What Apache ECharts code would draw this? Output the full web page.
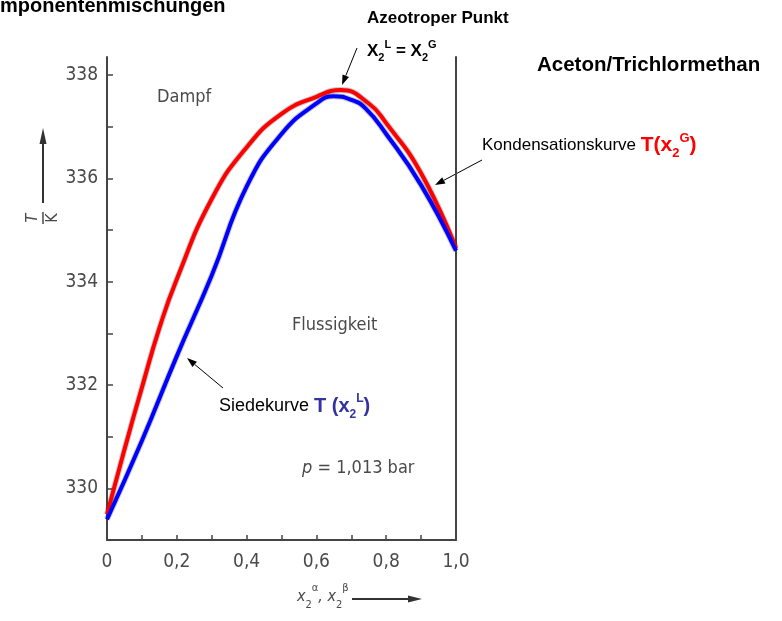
<!DOCTYPE html>
<html>
<head>
<meta charset="utf-8">
<script src="https://cdn.jsdelivr.net/npm/echarts@6/dist/echarts.min.js"></script>
<style>
  html, body { margin: 0; padding: 0; background: #fff; }
  #main { width: 782px; height: 621px; }
</style>
</head>
<body>
<div id="main"></div>
<script>
// Kondensationskurve T(x2G) - rot
var xGas = [0, 0.05, 0.1, 0.15, 0.2, 0.3, 0.4, 0.5, 0.6, 0.67, 0.75, 0.8, 0.9, 1.0];
var tGas = [329.5, 330.75, 331.95, 333.1, 334.05, 335.6, 336.6, 337.25, 337.58, 337.71, 337.45, 337.07, 336.1, 334.65];

// Siedekurve T(x2L) - blau
var xLiq = [0, 0.1, 0.2, 0.3, 0.4, 0.5, 0.6, 0.65, 0.7, 0.74, 0.8, 0.9, 1.0];
var tLiq = [329.4, 330.92, 332.56, 334.12, 335.84, 336.86, 337.45, 337.59, 337.52, 337.36, 336.86, 335.87, 334.6];

var yTicks = [330, 332, 334, 336, 338];

function pairs(xs, ys) {
    var out = [];
    for (var i = 0; i < xs.length; i++) {
        out.push([xs[i], ys[i]]);
    }
    return out;
}

// Pfeil als Linie + Spitze
function arrow(x1, y1, x2, y2, len, half, color, width) {
    var a = Math.atan2(y2 - y1, x2 - x1);
    var bx = x2 - len * Math.cos(a), by = y2 - len * Math.sin(a);
    var px = -Math.sin(a) * half, py = Math.cos(a) * half;
    return [{
        type: 'line',
        shape: {x1: x1, y1: y1, x2: bx, y2: by},
        style: {stroke: color, lineWidth: width}
    }, {
        type: 'polygon',
        shape: {points: [[x2, y2], [bx + px, by + py], [bx - px, by - py]]},
        style: {fill: color}
    }];
}

var scanFont = '"DejaVu Sans Condensed", "Liberation Sans Narrow", sans-serif';
var scanColor = '#4a4a4a';
var arial = '"Liberation Sans", Arial, sans-serif';

var graphics = [
    {
        type: 'text', x: 0, y: 6.5,
        style: {text: 'mponentenmischungen', font: 'bold 20px ' + arial,
            fill: '#000', textAlign: 'left', textVerticalAlign: 'middle'}
    },
    {
        type: 'text', x: 367, y: 18,
        style: {text: 'Azeotroper Punkt', font: 'bold 17px ' + arial,
            fill: '#000', textAlign: 'left', textVerticalAlign: 'middle'}
    },
    {
        type: 'text', x: 367, y: 51,
        style: {
            text: '{m|X}{sub|2}{sup|L}{m| = X}{sub|2}{sup|G}',
            textAlign: 'left', textVerticalAlign: 'middle',
            rich: {
                m: {font: 'bold 17px ' + arial, fill: '#000', lineHeight: 24},
                sub: {font: 'bold 11px ' + arial, fill: '#000', verticalAlign: 'bottom', lineHeight: 24},
                sup: {font: 'bold 11px ' + arial, fill: '#000', verticalAlign: 'top', lineHeight: 24}
            }
        }
    },
    {
        type: 'text', x: 537, y: 65.5,
        style: {text: 'Aceton/Trichlormethan', font: 'bold 20.5px ' + arial,
            fill: '#000', textAlign: 'left', textVerticalAlign: 'middle'}
    },
    {
        type: 'text', x: 482, y: 145.5,
        style: {
            text: '{n|Kondensationskurve }{r|T(x}{rs|2}{rp|G}{r|)}',
            textAlign: 'left', textVerticalAlign: 'middle',
            rich: {
                n: {font: '17px ' + arial, fill: '#000', lineHeight: 28},
                r: {font: 'bold 21px ' + arial, fill: '#ff0000', lineHeight: 28},
                rs: {font: 'bold 13px ' + arial, fill: '#ff0000', verticalAlign: 'bottom', lineHeight: 28},
                rp: {font: 'bold 13px ' + arial, fill: '#ff0000', verticalAlign: 'top', lineHeight: 28}
            }
        }
    },
    {
        type: 'text', x: 219, y: 406.5,
        style: {
            text: '{n|Siedekurve }{b|T (x}{bs|2}{bp|L}{b|)}',
            textAlign: 'left', textVerticalAlign: 'middle',
            rich: {
                n: {font: '18px ' + arial, fill: '#000', lineHeight: 28},
                b: {font: 'bold 20px ' + arial, fill: '#3333a0', lineHeight: 28},
                bs: {font: 'bold 12px ' + arial, fill: '#3333a0', verticalAlign: 'bottom', lineHeight: 28},
                bp: {font: 'bold 12px ' + arial, fill: '#3333a0', verticalAlign: 'top', lineHeight: 28}
            }
        }
    },
    {
        type: 'text', x: 157, y: 97,
        style: {text: 'Dampf', font: '18px ' + scanFont, fill: scanColor,
            textAlign: 'left', textVerticalAlign: 'middle'}
    },
    {
        type: 'text', x: 292, y: 325,
        style: {text: 'Flussigkeit', font: '18px ' + scanFont, fill: scanColor,
            textAlign: 'left', textVerticalAlign: 'middle'}
    },
    {
        type: 'text', x: 302, y: 468,
        style: {
            text: '{i|p}{n| = 1,013 bar}',
            textAlign: 'left', textVerticalAlign: 'middle',
            rich: {
                i: {font: 'italic 18px ' + scanFont, fill: scanColor},
                n: {font: '18px ' + scanFont, fill: scanColor}
            }
        }
    },
    {
        type: 'text', x: 297, y: 597,
        style: {
            text: '{i|x}{s|2}{p|α}{i|, x}{s|2}{p|β}',
            textAlign: 'left', textVerticalAlign: 'middle',
            rich: {
                i: {font: 'italic 16px ' + scanFont, fill: scanColor, lineHeight: 28},
                s: {font: '11px ' + scanFont, fill: scanColor, verticalAlign: 'bottom', lineHeight: 28},
                p: {font: '11px ' + scanFont, fill: scanColor, verticalAlign: 'top', lineHeight: 28}
            }
        }
    },
    // T/K als gedrehter Bruch
    {
        type: 'text', x: 33, y: 218, rotation: Math.PI / 2,
        style: {text: 'T', font: 'italic 16px ' + scanFont, fill: scanColor, textAlign: 'center', textVerticalAlign: 'middle'}
    },
    {
        type: 'line', shape: {x1: 43, y1: 212, x2: 43, y2: 224}, style: {stroke: scanColor, lineWidth: 1.5}
    },
    {
        type: 'text', x: 53, y: 218, rotation: Math.PI / 2,
        style: {text: 'K', font: '16px ' + scanFont, fill: scanColor, textAlign: 'center', textVerticalAlign: 'middle'}
    }
];

graphics = graphics
    .concat(arrow(357, 48, 342, 85, 10, 3.5, '#000', 1))
    .concat(arrow(482, 160, 435, 185, 10, 3.5, '#000', 1))
    .concat(arrow(223, 388, 187, 358, 10, 3.5, '#000', 1))
    .concat(arrow(43, 203, 43, 128, 16, 3.5, '#333', 2))
    .concat(arrow(352, 599, 422, 599, 14, 3.5, '#333', 2));

var chart = echarts.init(document.getElementById('main'));

var axisColor = '#444';

var option = {
    backgroundColor: '#fff',
    animation: false,
    grid: {left: 107, right: 326, top: 57, bottom: 81, containLabel: false},
    xAxis: {
        type: 'value',
        min: 0,
        max: 1,
        interval: 0.2,
        axisLine: {show: true, onZero: false, lineStyle: {color: axisColor, width: 2}},
        axisTick: {show: true, inside: true, length: 5, lineStyle: {color: axisColor, width: 1.5}},
        minorTick: {show: true, splitNumber: 2, length: 5, lineStyle: {color: axisColor, width: 1.5}},
        splitLine: {show: false},
        axisLabel: {
            margin: 13,
            color: scanColor,
            fontFamily: scanFont,
            fontSize: 19,
            formatter: function (v) {
                if (v === 0) return '0';
                return v.toFixed(1).replace('.', ',');
            }
        }
    },
    yAxis: [{
        type: 'value',
        min: 329,
        max: 338.35,
        interval: 1,
        axisLine: {show: true, onZero: false, lineStyle: {color: axisColor, width: 2}},
        axisTick: {show: true, inside: true, length: 6, lineStyle: {color: axisColor, width: 1.5}},
        splitLine: {show: false},
        axisLabel: {
            margin: 9,
            color: scanColor,
            fontFamily: scanFont,
            fontSize: 19,
            showMaxLabel: false,
            formatter: function (v) {
                return yTicks.indexOf(Math.round(v * 100) / 100) >= 0 ? String(v) : '';
            }
        }
    }, {
        type: 'value',
        position: 'right',
        min: 329,
        max: 338.35,
        axisLine: {show: true, onZero: false, lineStyle: {color: axisColor, width: 2}},
        axisTick: {show: false},
        axisLabel: {show: false},
        splitLine: {show: false}
    }],
    series: [{
        name: 'Kondensationskurve (Druck)',
        type: 'line',
        data: pairs(xGas, tGas),
        smooth: 0.5,
        showSymbol: false,
        silent: true,
        lineStyle: {color: '#222', width: 6, opacity: 0.25},
        z: 1
    }, {
        name: 'Siedekurve (Druck)',
        type: 'line',
        data: pairs(xLiq, tLiq),
        smooth: 0.5,
        showSymbol: false,
        silent: true,
        lineStyle: {color: '#222', width: 6, opacity: 0.25},
        z: 1
    }, {
        name: 'Kondensationskurve',
        type: 'line',
        data: pairs(xGas, tGas),
        smooth: 0.5,
        showSymbol: false,
        lineStyle: {color: '#ff0000', width: 4},
        z: 3
    }, {
        name: 'Siedekurve',
        type: 'line',
        data: pairs(xLiq, tLiq),
        smooth: 0.5,
        showSymbol: false,
        lineStyle: {color: '#0000ff', width: 4},
        z: 4
    }],
    graphic: graphics
};

chart.setOption(option);
</script>
</body>
</html>
